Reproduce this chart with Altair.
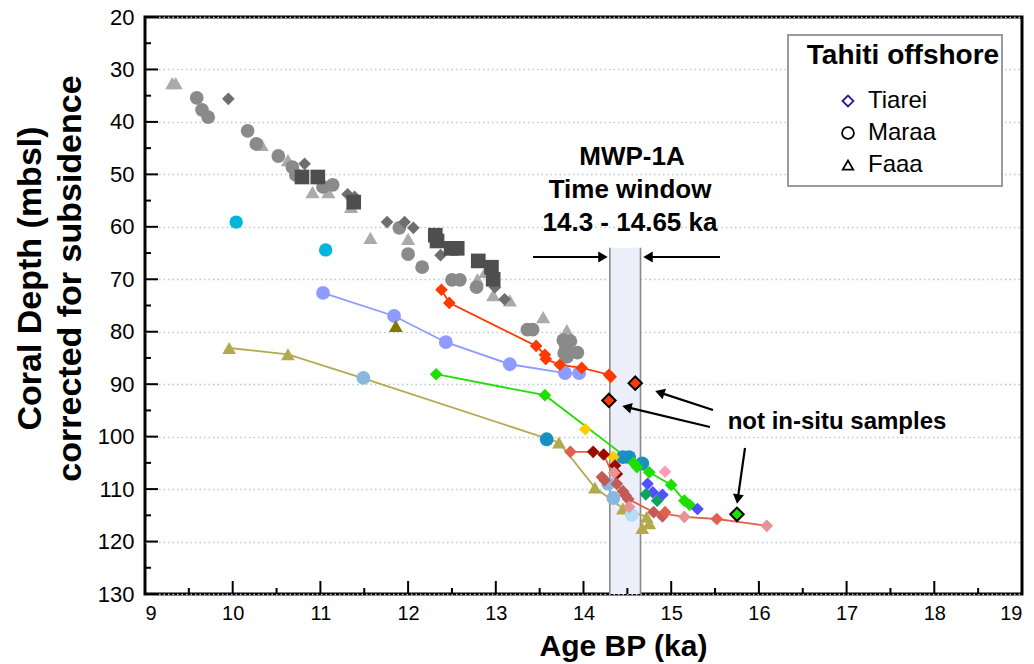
import altair as alt
import pandas as pd
import math

W, H = 877, 577
FONT = "Liberation Sans"

# ---------------- data (age ka, depth m) ----------------
gray_circ_age = [9.59, 9.65, 9.72, 10.17, 10.27, 10.52, 10.68, 10.72, 11.03, 11.14, 11.90, 12.00, 12.16,
                 12.50, 12.59, 12.78, 13.36, 13.42, 13.77, 13.85, 13.80, 13.93, 13.78, 13.81]
gray_circ_dep = [35.4, 37.7, 39.1, 41.7, 44.2, 46.5, 48.6, 50.1, 52.4, 52.0, 60.2, 65.2, 67.7,
                 70.1, 70.1, 71.5, 79.6, 79.6, 81.6, 81.8, 82.8, 84.0, 84.1, 84.8]
gray_tri_age = [9.31, 9.35, 10.33, 10.63, 10.91, 11.09, 11.35, 11.57, 12.00, 12.79, 12.88, 12.97, 13.16, 13.54, 13.81]
gray_tri_dep = [32.6, 32.6, 44.4, 47.3, 53.4, 53.4, 56.2, 62.1, 62.3, 70.0, 68.6, 73.0, 74.0, 77.2, 79.7]
gray_dia_age = [9.95, 10.82, 11.31, 11.39, 11.76, 11.96, 12.06, 12.37, 12.99, 13.10]
gray_dia_dep = [35.6, 48.0, 53.8, 54.3, 59.1, 59.1, 60.2, 65.4, 71.5, 73.8]
gray_sq_age = [10.79, 10.97, 11.38, 12.31, 12.33, 12.49, 12.56, 12.80, 12.95, 12.97]
gray_sq_dep = [50.5, 50.5, 55.3, 61.6, 62.7, 64.1, 64.1, 66.5, 67.7, 70.0]

cyan_age = [10.04, 11.06]
cyan_dep = [59.1, 64.4]
lav_age = [11.03, 11.84, 12.43, 13.16, 13.79, 13.95]
lav_dep = [72.6, 77.0, 82.0, 86.2, 87.9, 87.9]
darkolive_age = [11.86]
darkolive_dep = [78.9]
olive_line_age = [9.96, 10.63, 11.49, 13.72, 14.13, 14.45, 14.72]
olive_line_dep = [83.1, 84.3, 88.9, 101.1, 109.7, 113.7, 115.3]
olive_tri_age = [9.96, 10.63, 13.72, 14.13, 14.45, 14.72, 14.67, 14.75]
olive_tri_dep = [83.1, 84.3, 101.1, 109.7, 113.7, 115.3, 117.4, 116.5]
ltblue_age = [11.49, 14.28, 14.34]
ltblue_dep = [88.8, 109.0, 111.7]
paleblue_age = [14.55]
paleblue_dep = [114.9]
teal_age = [13.58, 14.45, 14.52, 14.67]
teal_dep = [100.5, 103.9, 103.9, 105.1]
red_age = [12.38, 12.47, 13.46, 13.56, 13.57, 13.73, 13.98, 14.29, 14.31]
red_dep = [72.0, 74.5, 82.7, 84.4, 85.2, 86.3, 86.9, 88.2, 88.6]
red_nis_age = [14.59, 14.29]
red_nis_dep = [89.8, 93.1]
green_age = [12.32, 13.56, 14.57, 14.61, 14.75, 15.00, 15.15, 15.21]
green_dep = [88.1, 92.1, 105.0, 105.8, 106.8, 109.2, 112.2, 113.0]
green_nis_age = [15.75]
green_nis_dep = [114.8]
yellow_age = [14.02, 14.34]
yellow_dep = [98.6, 103.9]
darkred_age = [14.11, 14.23, 14.36, 14.38]
darkred_dep = [102.9, 103.4, 105.5, 107.1]
salmon_line_age = [13.85, 14.11, 14.23, 14.38, 14.51, 14.80, 15.15, 15.52, 16.09]
salmon_line_dep = [102.9, 102.9, 103.4, 109.0, 111.9, 114.4, 115.3, 115.7, 117.0]
salmon_age = [13.85, 14.93, 15.52]
salmon_dep = [102.9, 114.4, 115.7]
rose_age = [14.21, 14.24, 14.38, 14.45, 14.48, 14.51, 14.80, 14.90]
rose_dep = [107.7, 108.3, 109.0, 110.4, 111.2, 111.9, 114.4, 115.2]
pinklt_age = [14.35, 14.52, 15.15, 16.09]
pinklt_dep = [106.9, 113.4, 115.3, 117.0]
violet_age = [14.73, 14.79, 14.90, 15.30]
violet_dep = [109.0, 110.6, 111.1, 113.8]
dkgreen_age = [14.71, 14.84]
dkgreen_dep = [111.0, 112.2]
pink_age = [14.93]
pink_dep = [106.7]

x_major = list(range(9, 20))
x_minor = [9.5, 10.5, 11.5, 12.5, 13.5, 14.5, 15.5, 16.5, 17.5, 18.5]
y_major = list(range(20, 131, 10))
y_minor = list(range(25, 130, 10))

window_start, window_end, window_top = 14.3, 14.65, 64.0

legend_labels = ["Tiarei", "Maraa", "Faaa"]
legend_shapes = ["diamond", "circle", "triangle-up"]
legend_strokes = ["#2a1a9a", "black", "black"]

# ---------------- build tables ----------------
series = [
    ("gray_tri", gray_tri_age, gray_tri_dep, "triangle-up", "#ababab", 200),
    ("gray_circ", gray_circ_age, gray_circ_dep, "circle", "#8a8a8a", 190),
    ("gray_dia", gray_dia_age, gray_dia_dep, "diamond", "#6e6e6e", 160),
    ("gray_sq", gray_sq_age, gray_sq_dep, "square", "#4e4e4e", 215),
    ("cyan", cyan_age, cyan_dep, "circle", "#00b6dc", 180),
    ("lav", lav_age, lav_dep, "circle", "#8f9bff", 190),
    ("darkolive", darkolive_age, darkolive_dep, "triangle-up", "#807800", 190),
    ("olive", olive_tri_age, olive_tri_dep, "triangle-up", "#b3aa50", 190),
    ("ltblue", ltblue_age, ltblue_dep, "circle", "#88b8e0", 190),
    ("paleblue", paleblue_age, paleblue_dep, "circle", "#b4dcf8", 190),
    ("teal", teal_age, teal_dep, "circle", "#1a90c0", 190),
    ("red", red_age, red_dep, "diamond", "#ff3a00", 160),
    ("green", green_age, green_dep, "diamond", "#1ee000", 160),
    ("yellow", yellow_age, yellow_dep, "diamond", "#ffcc00", 160),
    ("darkred", darkred_age, darkred_dep, "diamond", "#9a0c00", 160),
    ("rose", rose_age, rose_dep, "diamond", "#c45a56", 160),
    ("pinklt", pinklt_age, pinklt_dep, "diamond", "#e89494", 160),
    ("salmon", salmon_age, salmon_dep, "diamond", "#e2604c", 160),
    ("violet", violet_age, violet_dep, "diamond", "#5050ff", 160),
    ("dkgreen", dkgreen_age, dkgreen_dep, "diamond", "#10a060", 160),
    ("pink", pink_age, pink_dep, "diamond", "#ff9ab8", 160),
]
rows = []
for order, (name, ages, deps, shape, color, size) in enumerate(series):
    for a, d in zip(ages, deps):
        rows.append({"s": name, "age": a, "depth": d, "shape": shape, "color": color, "size": size, "o": order})
pts = pd.DataFrame(rows)

lines = [
    ("olive", olive_line_age, olive_line_dep, "#b3aa50"),
    ("lav", lav_age, lav_dep, "#8f9bff"),
    ("red", red_age, red_dep, "#ff3a00"),
    ("green", green_age, green_dep, "#1ee000"),
    ("salmon", salmon_line_age, salmon_line_dep, "#e2604c"),
]
lrows = []
for name, ages, deps, color in lines:
    for i, (a, d) in enumerate(zip(ages, deps)):
        lrows.append({"s": name, "age": a, "depth": d, "i": i, "color": color})
ldf = pd.DataFrame(lrows)

nis = pd.DataFrame({
    "age": red_nis_age + green_nis_age,
    "depth": red_nis_dep + green_nis_dep,
    "color": ["#ff3a00"] * len(red_nis_age) + ["#1ee000"] * len(green_nis_age),
})

# ---------------- scales / axes ----------------
xs = alt.Scale(domain=[9, 19], nice=False, zero=False)
ys = alt.Scale(domain=[20, 130], nice=False, zero=False, reverse=True)

XA = alt.Axis(values=x_major, format="d", ticks=False, domain=False, grid=False,
              labelFont=FONT, labelFontSize=20, labelColor="black", labelPadding=9,
              title="Age BP (ka)", titleFont=FONT, titleFontSize=30, titleFontWeight="bold",
              titleColor="black", titleX=478, titleY=52, titleBaseline="middle", titleAlign="center")
YA = alt.Axis(values=y_major, format="d", ticks=False, domain=False, grid=True,
              gridColor="#b5cdd6", gridDash=[1.5, 3], gridWidth=1.5,
              labelFont=FONT, labelFontSize=22, labelColor="black", labelPadding=11,
              title=["Coral Depth (mbsl)", "corrected for subsidence"],
              titleFont=FONT, titleFontSize=34, titleFontWeight="bold", titleColor="black",
              titleX=-115, titleY=261, titleBaseline="middle", titleAlign="center",
              titleAngle=270, titleLineHeight=40)


def X(f="age"):
    return alt.X(f"{f}:Q", scale=xs, axis=XA)


def Y(f="depth"):
    return alt.Y(f"{f}:Q", scale=ys, axis=YA)


one = pd.DataFrame({"k": [0]})

# window --------------------------------------------------
win = pd.DataFrame({"a": [window_start], "b": [window_end], "t": [window_top], "bot": [130]})
window_rect = alt.Chart(win).mark_rect(color="#eceef9").encode(
    x=X("a"), x2="b:Q", y=Y("t"), y2="bot:Q")
wb = pd.DataFrame({"a": [window_start, window_end], "t": [window_top] * 2, "bot": [130] * 2})
window_edges = alt.Chart(wb).mark_rule(color="#8a8a8a", strokeWidth=1.6).encode(
    x=X("a"), y=Y("t"), y2="bot:Q")


# tick marks (inward) ------------------------------------
def xticks(vals, length):
    return alt.Chart(pd.DataFrame({"v": vals})).mark_rule(color="black", strokeWidth=2).encode(
        x=X("v"), y=alt.value(H), y2=alt.value(H - length))


def yticks(vals, length):
    return alt.Chart(pd.DataFrame({"v": vals})).mark_rule(color="black", strokeWidth=2).encode(
        y=Y("v"), x=alt.value(0), x2=alt.value(length))


# lines and points ----------------------------------------
line_layer = alt.Chart(ldf).mark_line(strokeWidth=1.8).encode(
    x=X(), y=Y(), detail="s:N", order="i:Q",
    color=alt.Color("color:N", scale=None))

point_layer = alt.Chart(pts).mark_point(filled=True, opacity=1, strokeWidth=0).encode(
    x=X(), y=Y(),
    shape=alt.Shape("shape:N", scale=None),
    color=alt.Color("color:N", scale=None),
    size=alt.Size("size:Q", scale=None),
    order="o:Q")

nis_layer = alt.Chart(nis).mark_point(shape="diamond", filled=True, opacity=1, stroke="black",
                                      strokeWidth=2, size=180).encode(
    x=X(), y=Y(), fill=alt.Fill("color:N", scale=None))


# annotations ---------------------------------------------
def txt(text, x, y, size, weight="bold", align="center"):
    return alt.Chart(one).mark_text(text=text, font=FONT, fontSize=size, fontWeight=weight,
                                    align=align, baseline="middle", color="black").encode(
        x=alt.value(x), y=alt.value(y))


def arrow(x1, y1, x2, y2):
    t = math.atan2(y2 - y1, x2 - x1)
    body = alt.Chart(one).mark_rule(color="black", strokeWidth=2.2).encode(
        x=alt.value(x1), y=alt.value(y1), x2=alt.value(x2 - 6 * math.cos(t)), y2=alt.value(y2 - 6 * math.sin(t)))
    ang = (math.degrees(t) + 90) % 360
    head = alt.Chart(one).mark_point(shape="triangle-up", filled=True, color="black", opacity=1,
                                     size=120, angle=ang).encode(
        x=alt.value(x2 - 5 * math.cos(t)), y=alt.value(y2 - 5 * math.sin(t)))
    return body + head


ox, oy = 145, 17
annot = (
    txt("MWP-1A", 632 - ox, 157 - oy, 26) +
    txt("Time window", 630 - ox, 190 - oy, 26) +
    txt("14.3 - 14.65 ka", 630 - ox, 223 - oy, 26) +
    arrow(533 - ox, 257 - oy, 608 - ox, 257 - oy) +
    arrow(720 - ox, 257 - oy, 643 - ox, 257 - oy) +
    txt("not in-situ samples", 837 - ox, 422 - oy, 24) +
    arrow(713 - ox, 410 - oy, 655 - ox, 391 - oy) +
    arrow(710 - ox, 427 - oy, 622 - ox, 406 - oy) +
    arrow(745 - ox, 448 - oy, 737 - ox, 504 - oy)
)

# legend box -----------------------------------------------
leg_box = alt.Chart(one).mark_rect(fill="white", stroke="#9a9a9a", strokeWidth=2).encode(
    x=alt.value(788 - ox), x2=alt.value(1002 - ox), y=alt.value(35 - oy), y2=alt.value(186 - oy))
legend = leg_box + txt("Tahiti offshore", 903 - ox, 56 - oy, 28)
row_y = [101, 133, 165]
leg_sizes = [120, 140, 110]
for lab, shp, stk, ry, sz in zip(legend_labels, legend_shapes, legend_strokes, row_y, leg_sizes):
    legend = legend + alt.Chart(one).mark_point(shape=shp, filled=False, stroke=stk, strokeWidth=1.8,
                                                size=sz, opacity=1).encode(
        x=alt.value(848 - ox), y=alt.value(ry - oy))
    legend = legend + txt(lab, 868 - ox, ry - oy, 24, weight="normal", align="left")

chart = alt.layer(
    window_rect, window_edges,
    xticks(x_major, 13), xticks(x_minor, 6), yticks(y_major, 13), yticks(y_minor, 6),
    line_layer, point_layer, nis_layer, annot, legend,
).properties(
    width=W, height=H,
    autosize=alt.AutoSizeParams(type="none"),
    padding={"left": 145, "top": 17, "right": 12, "bottom": 70},
    background="white",
).configure_view(stroke="black", strokeWidth=3)

chart.save("out.html", embed_options={"renderer": "svg", "actions": False})
